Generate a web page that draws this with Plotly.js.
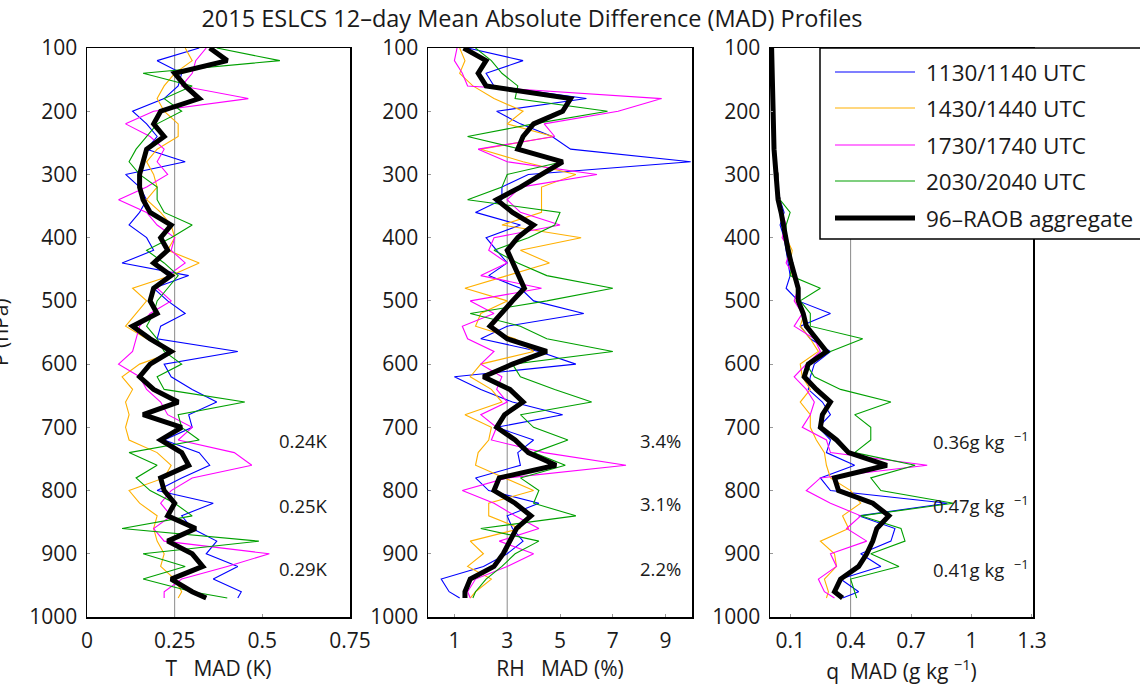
<!DOCTYPE html>
<html>
<head>
<meta charset="utf-8">
<script src="https://cdn.plot.ly/plotly-3.0.1.min.js"></script>
<style>html,body{margin:0;padding:0;background:#fff;}#chart{width:1140px;height:698px;}</style>
</head>
<body>
<div id="chart"></div>
<script>
// Pressure levels (hPa)
var pressure = [100,120,140,160,180,200,220,240,260,280,300,320,340,360,380,400,420,440,460,480,500,520,540,560,580,600,620,640,660,680,700,720,740,760,780,800,820,840,860,880,900,920,940,960,970];

var seriesNames = ['1130/1140 UTC','1430/1440 UTC','1730/1740 UTC','2030/2040 UTC','96\u2013RAOB aggregate'];

// Temperature MAD (K)
var tBlue   = [0.32,0.20,0.27,0.26,0.22,0.13,0.17,0.20,0.17,0.28,0.11,0.15,0.17,0.15,0.12,0.17,0.19,0.10,0.29,0.19,0.23,0.28,0.21,0.20,0.43,0.22,0.24,0.30,0.37,0.29,0.30,0.22,0.32,0.35,0.27,0.20,0.36,0.27,0.30,0.37,0.34,0.43,0.36,0.44,0.43];
var tOrange = [0.28,0.30,0.25,0.22,0.20,0.22,0.26,0.26,0.20,0.17,0.19,0.20,0.17,0.21,0.24,0.25,0.23,0.32,0.24,0.13,0.17,0.14,0.11,0.17,0.25,0.15,0.10,0.13,0.11,0.12,0.11,0.12,0.20,0.24,0.22,0.12,0.15,0.20,0.19,0.20,0.22,0.21,0.25,0.27,0.26];
var tMag    = [0.34,0.31,0.30,0.27,0.46,0.19,0.11,0.18,0.22,0.20,0.23,0.17,0.09,0.17,0.20,0.25,0.24,0.28,0.23,0.20,0.24,0.18,0.15,0.14,0.13,0.09,0.15,0.17,0.21,0.23,0.30,0.26,0.42,0.47,0.30,0.24,0.21,0.24,0.19,0.22,0.52,0.40,0.27,0.22,0.22];
var tGreen  = [0.37,0.55,0.16,0.30,0.22,0.27,0.20,0.17,0.14,0.12,0.15,0.20,0.20,0.22,0.30,0.24,0.17,0.22,0.26,0.23,0.20,0.19,0.17,0.20,0.22,0.27,0.20,0.22,0.45,0.26,0.27,0.32,0.12,0.20,0.14,0.18,0.25,0.30,0.10,0.49,0.16,0.28,0.16,0.30,0.40];
var tBlack  = [0.35,0.40,0.25,0.28,0.32,0.21,0.19,0.22,0.17,0.16,0.15,0.15,0.16,0.18,0.24,0.21,0.23,0.19,0.24,0.19,0.18,0.20,0.13,0.18,0.24,0.18,0.15,0.19,0.26,0.16,0.27,0.21,0.27,0.29,0.21,0.22,0.25,0.23,0.31,0.23,0.30,0.33,0.24,0.30,0.34];

// Relative humidity MAD (%)
var rhBlue   = [1.5,3.6,2.2,2.5,6.0,2.6,3.5,4.7,5.4,9.95,3.8,2.8,2.8,1.8,3.5,2.2,2.6,3.0,2.3,3.5,4.0,5.9,3.0,2.0,4.2,5.6,1.0,2.0,3.2,5.1,2.6,4.0,3.4,3.5,1.8,2.3,4.2,3.0,3.2,3.6,3.0,2.1,0.5,0.8,1.2];
var rhOrange = [1.2,1.4,1.2,1.7,2.5,3.6,3.0,4.75,2.0,3.6,5.6,4.3,4.3,4.3,2.8,5.8,3.5,4.6,3.0,1.4,3.0,2.0,1.8,3.3,4.0,2.0,1.6,2.4,2.8,1.4,2.4,2.3,1.9,1.8,2.9,4.0,2.3,2.3,3.5,1.6,2.1,1.5,2.4,1.8,1.6];
var rhMag    = [1.1,1.0,1.3,1.5,8.85,7.2,4.4,4.8,1.9,3.0,6.4,3.5,3.0,3.5,5.0,2.5,2.3,3.0,2.0,4.3,1.6,2.5,1.3,1.5,2.5,2.0,2.8,2.6,3.0,2.0,2.6,2.4,4.4,7.5,3.0,1.3,2.5,3.3,4.2,2.7,4.0,3.0,1.8,1.5,1.6];
var rhGreen  = [1.8,2.4,2.8,3.4,3.3,6.8,4.0,1.5,3.5,5.1,3.0,2.8,1.5,5.0,4.8,3.8,2.5,3.4,4.5,7.0,4.5,1.6,3.5,4.5,7.0,3.2,3.5,4.8,6.2,3.5,4.0,5.3,4.0,5.2,3.5,4.2,4.0,5.6,2.0,4.2,3.3,2.8,2.2,1.8,1.7];
var rhBlack  = [1.35,2.2,1.9,2.2,5.4,5.1,4.0,3.6,3.4,5.1,4.3,3.5,2.6,3.2,4.0,3.4,3.0,3.2,3.4,3.65,3.2,2.8,2.35,3.0,4.5,3.2,2.1,3.1,3.6,2.9,2.6,3.3,3.8,4.85,2.7,2.5,3.3,3.9,3.35,3.1,2.85,2.5,1.6,1.4,1.4];

// Specific humidity MAD (g/kg)
var qBlue   = [0.006,0.007,0.008,0.009,0.010,0.012,0.014,0.016,0.019,0.024,0.040,0.038,0.050,0.070,0.050,0.070,0.080,0.090,0.100,0.080,0.140,0.300,0.150,0.200,0.300,0.220,0.200,0.190,0.260,0.300,0.240,0.300,0.280,0.420,0.250,0.300,0.880,0.440,0.620,0.600,0.450,0.550,0.350,0.440,0.360];
var qOrange = [0.007,0.008,0.009,0.010,0.011,0.013,0.015,0.017,0.020,0.026,0.040,0.036,0.050,0.060,0.070,0.080,0.110,0.100,0.110,0.140,0.130,0.170,0.150,0.200,0.240,0.150,0.160,0.200,0.150,0.200,0.200,0.230,0.270,0.280,0.300,0.400,0.450,0.360,0.390,0.250,0.320,0.330,0.270,0.290,0.280];
var qMag    = [0.007,0.008,0.009,0.010,0.011,0.013,0.015,0.017,0.020,0.026,0.040,0.037,0.050,0.060,0.080,0.060,0.100,0.080,0.120,0.140,0.120,0.160,0.120,0.220,0.250,0.180,0.120,0.180,0.220,0.200,0.160,0.280,0.300,0.780,0.250,0.180,0.300,0.450,0.380,0.480,0.300,0.330,0.240,0.270,0.320];
var qGreen  = [0.007,0.008,0.009,0.010,0.011,0.013,0.015,0.017,0.020,0.026,0.040,0.036,0.050,0.100,0.080,0.080,0.100,0.110,0.100,0.250,0.150,0.200,0.200,0.460,0.300,0.180,0.220,0.350,0.600,0.420,0.500,0.500,0.420,0.720,0.500,0.550,0.910,0.450,0.650,0.670,0.500,0.640,0.400,0.420,0.430];
var qBlack  = [0.008,0.009,0.010,0.011,0.012,0.013,0.015,0.017,0.020,0.025,0.030,0.035,0.040,0.055,0.066,0.074,0.090,0.105,0.120,0.140,0.140,0.165,0.180,0.230,0.280,0.190,0.170,0.230,0.300,0.260,0.250,0.330,0.390,0.580,0.320,0.340,0.510,0.590,0.530,0.510,0.480,0.440,0.350,0.320,0.360];

var colors = ['#0000ff','#ffb000','#ff00ff','#00a000','#000000'];
var widths = [1.1,1.1,1.1,1.1,5];

var panels = [
  {series:[tBlue,tOrange,tMag,tGreen,tBlack], x:'x', y:'y'},
  {series:[rhBlue,rhOrange,rhMag,rhGreen,rhBlack], x:'x2', y:'y2'},
  {series:[qBlue,qOrange,qMag,qGreen,qBlack], x:'x3', y:'y3'}
];

var traces = [];
panels.forEach(function(pn){
  pn.series.forEach(function(vals, i){
    traces.push({
      type:'scatter', mode:'lines', x:vals, y:pressure, name:seriesNames[i],
      xaxis:pn.x, yaxis:pn.y, showlegend:false,
      line:{color:colors[i], width:widths[i]}, hoverinfo:'x+y+name'
    });
  });
});

var W = 1140, H = 698;
function px(x){return x/W;}
function py(y){return 1 - y/H;}
var FONT = 'Open Sans, Noto Sans, sans-serif';
var TXT = '#1a1a1a';
var tickFont = {family:FONT, size:21, color:TXT};
var yDom = [py(617), py(48)];

function xAx(dom, range, vals, texts, title, anchor){
  return {domain:dom, range:range, tickvals:vals, ticktext:texts, anchor:anchor,
    showline:true, mirror:true, linecolor:'#000', linewidth:1.5,
    ticks:'inside', ticklen:3, tickcolor:'#999', showgrid:false, zeroline:false,
    tickfont:tickFont, ticklabelstandoff:4,
    title:{text:title, font:{family:FONT, size:21, color:TXT}, standoff:4}};
}
function yAx(anchor){
  return {domain:yDom, range:[1000,100], tickvals:[100,200,300,400,500,600,700,800,900,1000],
    anchor:anchor, showline:true, mirror:true, linecolor:'#000', linewidth:1.5,
    ticks:'inside', ticklen:3, tickcolor:'#999', showgrid:false, zeroline:false,
    tickfont:tickFont, ticklabelstandoff:4};
}

function note(x, y, text, anchor){
  return {xref:'paper', yref:'paper', x:px(x), y:py(y), text:text, showarrow:false,
    xanchor:anchor, yanchor:'middle', font:{family:FONT, size:18.5, color:TXT}};
}

var layout = {
  width:W, height:H, margin:{l:0,r:0,t:0,b:0}, paper_bgcolor:'#fff', plot_bgcolor:'#fff',
  showlegend:false,
  font:{family:FONT, color:TXT},
  title:{text:'2015 ESLCS 12\u2013day Mean Absolute Difference (MAD) Profiles', x:px(532), xanchor:'center', y:py(19), yanchor:'middle', font:{family:FONT, size:23.5, color:TXT}},
  xaxis: xAx([px(87),px(350)], [0,0.75], [0,0.25,0.5,0.75], ['0','0.25','0.5','0.75'], 'T\u00a0\u00a0\u00a0MAD (K)', 'y'),
  xaxis2: xAx([px(428),px(692)], [0,10], [1,3,5,7,9], ['1','3','5','7','9'], 'RH\u00a0\u00a0\u00a0MAD (%)', 'y2'),
  xaxis3: xAx([px(770),px(1033)], [0,1.305], [0.1,0.4,0.7,1,1.3], ['0.1','0.4','0.7','1','1.3'], 'q\u00a0\u00a0MAD (g kg\u00a0<sup>\u22121</sup>)', 'y3'),
  yaxis: yAx('x'), yaxis2: yAx('x2'), yaxis3: yAx('x3'),
  shapes:[
    {type:'line', xref:'x', yref:'y', x0:0.25, x1:0.25, y0:100, y1:1000, line:{color:'#8a8a8a', width:1}, layer:'below'},
    {type:'line', xref:'x2', yref:'y2', x0:3, x1:3, y0:100, y1:1000, line:{color:'#8a8a8a', width:1}, layer:'below'},
    {type:'line', xref:'x3', yref:'y3', x0:0.4, x1:0.4, y0:100, y1:1000, line:{color:'#8a8a8a', width:1}, layer:'below'},
    {type:'rect', xref:'paper', yref:'paper', x0:px(820), x1:px(1160), y0:py(239), y1:py(48), line:{color:'#000', width:1.5}, fillcolor:'#fff', layer:'above'}
  ],
  annotations:[
    {xref:'paper', yref:'paper', x:px(0), y:py(332), text:'P (hPa)', textangle:-90, showarrow:false, xanchor:'center', yanchor:'middle', font:{family:FONT, size:21, color:TXT}},
    note(303, 440, '0.24K', 'center'),
    note(303, 505, '0.25K', 'center'),
    note(303, 568, '0.29K', 'center'),
    note(660, 440, '3.4%', 'center'),
    note(660, 503, '3.1%', 'center'),
    note(660, 568, '2.2%', 'center'),
    note(931, 440, '0.36g kg\u00a0\u00a0<sup>\u22121</sup>', 'left'),
    note(931, 504, '0.47g kg\u00a0\u00a0<sup>\u22121</sup>', 'left'),
    note(931, 568, '0.41g kg\u00a0\u00a0<sup>\u22121</sup>', 'left')
  ]
};

// legend drawn in paper coordinates, colours and names from the series
var rowsY = [72,108,145,181,218];
seriesNames.forEach(function(nm, i){
  layout.shapes.push({type:'line', xref:'paper', yref:'paper', x0:px(835), x1:px(915), y0:py(rowsY[i]), y1:py(rowsY[i]), line:{color:colors[i], width:i===4?5:1.2}, layer:'above'});
  layout.annotations.push({xref:'paper', yref:'paper', x:px(924), y:py(rowsY[i]), xanchor:'left', yanchor:'middle', text:nm, showarrow:false, font:{family:FONT, size:22.5, color:TXT}});
});

Plotly.newPlot('chart', traces, layout, {staticPlot:true, displayModeBar:false});
</script>
</body>
</html>
